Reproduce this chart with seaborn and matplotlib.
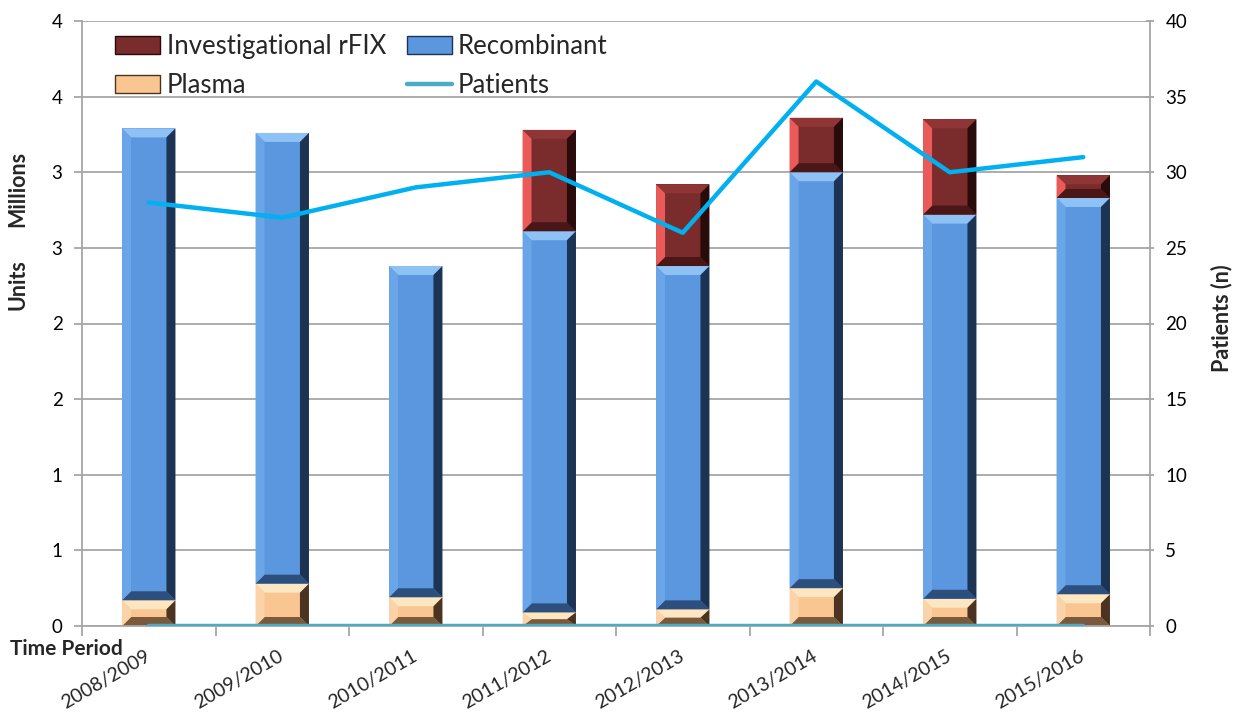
import numpy as np
import pandas as pd
import matplotlib
matplotlib.use("Agg")
import matplotlib.pyplot as plt
from matplotlib.patches import Polygon, Patch
from matplotlib.lines import Line2D
from matplotlib.ticker import FuncFormatter, MultipleLocator, FixedLocator
import seaborn as sns

# ---- data (units in millions, patients as counts) ----
periods = ["2008/2009", "2009/2010", "2010/2011", "2011/2012",
           "2012/2013", "2013/2014", "2014/2015", "2015/2016"]
plasma = [0.17, 0.28, 0.19, 0.09, 0.11, 0.25, 0.18, 0.21]
recombinant = [3.12, 2.98, 2.19, 2.52, 2.27, 2.75, 2.54, 2.62]
investigational = [0.00, 0.00, 0.00, 0.67, 0.54, 0.36, 0.63, 0.15]
patients = [28, 27, 29, 30, 26, 36, 30, 31]

sns.set_theme(style="white")
plt.rcParams["font.family"] = ["Lato", "DejaVu Sans"]

df = pd.DataFrame({
    "period": periods,
    "plasma": plasma,
    "recombinant": recombinant,
    "investigational": investigational,
    "patients": patients,
})
df["top_plasma"] = df["plasma"]
df["top_recomb"] = df["plasma"] + df["recombinant"]
df["top_invest"] = df["top_recomb"] + df["investigational"]

# colour sets: base, top, left, right, bottom
STYLES = {
    "invest": ("#7a2b2b", "#8f3535", "#ea5a58", "#2a0b0b", "#4a1616"),
    "recomb": ("#5b97de", "#8fc2f4", "#6aa5e8", "#1c3353", "#2c4f7e"),
    "plasma": ("#f9c590", "#fde6c2", "#fbd3a8", "#4a3320", "#7a5a3a"),
}

fig = plt.figure(figsize=(12.4, 7.15), dpi=100)
ax = fig.add_axes([82 / 1240, 1 - 626 / 715, (1150 - 82) / 1240, (626 - 21) / 715])

bar_w = 0.4
sns.barplot(data=df, x="period", y="top_invest", color=STYLES["invest"][0],
            width=bar_w, saturation=1, ax=ax, linewidth=0, zorder=2)
sns.barplot(data=df, x="period", y="top_recomb", color=STYLES["recomb"][0],
            width=bar_w, saturation=1, ax=ax, linewidth=0, zorder=2)
sns.barplot(data=df, x="period", y="top_plasma", color=STYLES["plasma"][0],
            width=bar_w, saturation=1, ax=ax, linewidth=0, zorder=2)

n = len(periods)
ax.set_xlim(-0.5, n - 0.5)
ax.set_ylim(0, 4)

# bevelled edges on each stacked segment
def bevel(ax, x0, x1, y0, y1, cols, px=9):
    p0 = ax.transData.transform((0, 0))
    p1 = ax.transData.transform((1, 1))
    sx, sy = p1[0] - p0[0], p1[1] - p0[1]
    bx = min(px / sx, (x1 - x0) / 2)
    by = min(px / sy, (y1 - y0) / 2)
    base, top, left, right, bottom = cols
    polys = [
        ([(x0, y1), (x1, y1), (x1 - bx, y1 - by), (x0 + bx, y1 - by)], top),
        ([(x0, y0), (x1, y0), (x1 - bx, y0 + by), (x0 + bx, y0 + by)], bottom),
        ([(x0, y0), (x0, y1), (x0 + bx, y1 - by), (x0 + bx, y0 + by)], left),
        ([(x1, y0), (x1, y1), (x1 - bx, y1 - by), (x1 - bx, y0 + by)], right),
    ]
    for pts, c in polys:
        ax.add_patch(Polygon(pts, closed=True, facecolor=c, edgecolor="none",
                             zorder=2.5))

patches = ax.patches[:]
for i in range(n):
    x0 = patches[i].get_x()
    x1 = x0 + patches[i].get_width()
    segs = [
        (0, df["top_plasma"][i], "plasma"),
        (df["top_plasma"][i], df["top_recomb"][i], "recomb"),
        (df["top_recomb"][i], df["top_invest"][i], "invest"),
    ]
    for y0, y1, key in segs:
        if y1 - y0 > 1e-6:
            bevel(ax, x0, x1, y0, y1, STYLES[key])

# patients series on the units axis (near zero) and on the count axis
pos = np.arange(n)
sns.lineplot(x=pos, y=np.array(patients) / 1e6, ax=ax, color="#4bacc6",
             linewidth=3.2, sort=False, zorder=4, legend=False)

ax2 = ax.twinx()
sns.lineplot(x=pos, y=patients, ax=ax2, color="#00b0f0", linewidth=3.2,
             sort=False, legend=False, zorder=4)
ax2.set_ylim(0, 40)
ax2.set_xlim(-0.5, n - 0.5)

# left axis: ticks every half million, labels rounded to integers
ax.yaxis.set_major_locator(MultipleLocator(0.5))
ax.yaxis.set_major_formatter(FuncFormatter(lambda v, p: f"{int(np.floor(v + 0.5))}"))
ax.grid(axis="y", color="#a6a6a6", linewidth=1.3)
ax.set_axisbelow(True)
ax2.yaxis.set_major_locator(MultipleLocator(5))

gray = "#a6a6a6"
for a in (ax, ax2):
    a.spines["top"].set_visible(False)
    for s in ("left", "right", "bottom"):
        a.spines[s].set_color(gray)
        a.spines[s].set_linewidth(1.3)
ax2.spines["left"].set_visible(False)
ax2.spines["bottom"].set_visible(False)
ax.spines["right"].set_visible(False)

ax.tick_params(axis="y", which="major", left=True, length=6, width=1.3,
               color=gray, labelsize=13.5, pad=8, labelcolor="black")
ax2.tick_params(axis="y", which="major", right=True, length=6, width=1.3,
                color=gray, labelsize=13.5, pad=8, labelcolor="black",
                direction="inout")

# x axis: labels at centres, tick marks at category boundaries
ax.set_xticks(pos)
ax.set_xticklabels(periods, rotation=30, ha="right", va="center",
                   rotation_mode="anchor", fontsize=14)
ax.xaxis.set_minor_locator(FixedLocator(np.arange(-0.5, n, 1.0)))
ax.tick_params(axis="x", which="major", length=0, pad=20.5)
ax.tick_params(axis="x", which="minor", bottom=True, length=7, width=1.3,
               color=gray)
ax.set_xlabel("")
ax.set_ylabel("")
ax2.set_ylabel("")

bold = dict(fontsize=15.5, fontweight="bold", ha="center", va="center")
fig.text(18 / 1240, 1 - 189 / 715, "Millions", rotation=90, **bold)
fig.text(18 / 1240, 1 - 285 / 715, "Units", rotation=90, **bold)
fig.text(1222 / 1240, 1 - 318 / 715, "Patients (n)", rotation=90, **bold)
fig.text(10 / 1240, 1 - 649 / 715, "Time Period", fontsize=15,
         fontweight="bold", ha="left", va="center")

handles = [
    Patch(facecolor=STYLES["invest"][0], edgecolor=STYLES["invest"][3]),
    Patch(facecolor=STYLES["plasma"][0], edgecolor=STYLES["plasma"][3]),
    Patch(facecolor=STYLES["recomb"][0], edgecolor=STYLES["recomb"][3]),
    Line2D([0], [0], color="#4bacc6", linewidth=3.2),
]
labels = ["Investigational rFIX", "Plasma", "Recombinant", "Patients"]
leg = ax2.legend(handles, labels, ncol=2, loc="upper left",
                 bbox_to_anchor=(0.0215, 0.9956), frameon=False, fontsize=18.5,
                 handlelength=1.75, handleheight=0.7, handletextpad=0.25,
                 columnspacing=0.8, labelspacing=0.56, borderaxespad=0)

fig.savefig("out.png", dpi=100)
